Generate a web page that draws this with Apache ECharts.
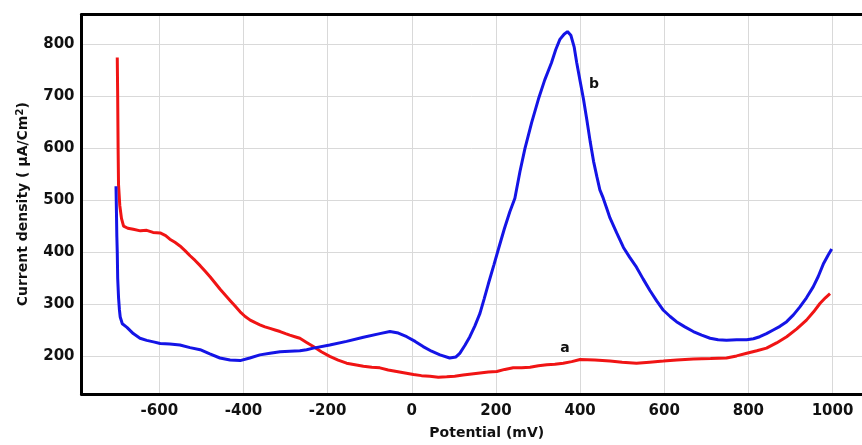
<!DOCTYPE html>
<html>
<head>
<meta charset="utf-8">
<script src="https://cdn.jsdelivr.net/npm/echarts@6/dist/echarts.min.js"></script>
<style>html,body{margin:0;padding:0;background:#fff}#c{width:862px;height:445px}</style>
</head>
<body>
<div id="c"></div>
<script>
const xTicks = [-600, -400, -200, 0, 200, 400, 600, 800, 1000];
const yTicks = [200, 300, 400, 500, 600, 700, 800];

const seriesA_x = [-700,-699,-698,-697,-694,-690,-685,-675,-662,-645,-630,-615,-598,-585,-575,-563,-551,-539,-527,-515,-503,-491,-479,-467,-456,-444,-432,-420,-408,-396,-384,-372,-361,-349,-337,-325,-313,-300,-290,-278,-266,-250,-234,-215,-195,-175,-155,-135,-115,-95,-76,-56,-36,-16,4,23,43,63,83,102,122,142,162,182,202,221,241,261,281,301,321,340,360,380,400,435,471,500,534,565,598,630,669,710,748,772,796,820,843,867,891,915,938,955,970,983,994];
const seriesA_y = [775,700,600,530,490,465,450,446,444,441,442,438,437,432,425,419,412,403,393,384,374,363,352,340,329,318,307,296,285,276,269,264,260,256,253,250,247,243,240,237,234,226,218,208,199,192,186,183,180,178,177,173,170,167,164,162,161,159,160,161,163,165,167,169,170,174,177,177,178,181,183,184,186,189,193,192,190,188,186,188,190,192,194,195,196,200,205,210,215,225,237,252,269,285,301,312,320];

const seriesB_x = [-703,-702,-701,-700,-699,-697,-695,-693,-688,-677,-662,-646,-630,-614,-598,-575,-551,-527,-503,-480,-456,-432,-408,-385,-361,-337,-313,-290,-266,-250,-234,-195,-155,-115,-76,-52,-32,-12,8,27,47,67,90,105,114,126,138,150,162,172,182,195,207,220,233,245,257,269,285,301,316,332,342,352,362,370,378,386,392,400,408,416,424,432,440,447,455,463,471,487,503,518,534,550,566,582,598,614,629,649,669,689,709,728,748,772,796,812,827,843,859,875,891,907,922,938,954,966,978,990,998];
const seriesB_y = [527,480,430,400,350,313,290,275,262,255,243,234,230,227,224,223,221,216,212,204,196,192,191,196,202,205,208,209,210,212,215,221,228,236,243,247,244,237,228,218,209,202,196,198,205,220,237,258,282,310,339,375,409,445,478,504,555,600,650,695,732,765,790,810,820,825,818,795,765,730,695,655,613,575,545,520,504,485,466,437,409,390,371,348,326,306,288,276,266,256,247,240,234,231,230,231,231,233,237,243,250,257,266,279,294,312,333,353,377,395,406];

const labelA = {name: 'a', x: 364, y: 214};
const labelB = {name: 'b', x: 433, y: 724};

function pairs(xs, ys){ return xs.map((x,i)=>[x, ys[i]]); }

const font = 'DejaVu Sans';
const chart = echarts.init(document.getElementById('c'), null, {renderer: 'canvas'});
chart.setOption({
  animation: false,
  backgroundColor: '#ffffff',
  grid: {left: 81.5, right: 0, top: 14.5, bottom: 47, containLabel: false},
  xAxis: [{
    type: 'value', min: -785, max: 1070,
    name: 'Potential (mV)', nameLocation: 'middle', nameGap: 32,
    nameTextStyle: {fontFamily: font, fontWeight: 'bold', fontSize: 14, color: '#111', padding: [0,0,0,30]},
    axisLine: {show: true, onZero: false, lineStyle: {color: '#000', width: 3}},
    axisTick: {show: false, customValues: xTicks},
    axisLabel: {customValues: xTicks, formatter: v => String(v), fontFamily: font, fontWeight: 'bold', fontSize: 15, color: '#111', margin: 10},
    splitLine: {show: true, lineStyle: {color: '#d9d9d9', width: 1}}
  }, {
    type: 'value', position: 'top', min: -785, max: 1070,
    axisLine: {show: true, onZero: false, lineStyle: {color: '#000', width: 3}},
    axisTick: {show: false}, axisLabel: {show: false}, splitLine: {show: false}
  }],
  yAxis: {
    type: 'value', min: 126.6, max: 858,
    name: 'Current density ( μA/Cm{s|2})', nameLocation: 'middle', nameGap: 50, nameRotate: 90,
    nameTextStyle: {fontFamily: font, fontWeight: 'bold', fontSize: 14, color: '#111',
      rich: {s: {fontFamily: font, fontWeight: 'bold', fontSize: 10, color: '#111', verticalAlign: 'top', padding: [0,0,6,0]}}},
    axisLine: {show: true, onZero: false, lineStyle: {color: '#000', width: 3}},
    axisTick: {show: false, customValues: yTicks},
    axisLabel: {customValues: yTicks, fontFamily: font, fontWeight: 'bold', fontSize: 15, color: '#111', margin: 7},
    splitLine: {show: true, lineStyle: {color: '#d9d9d9', width: 1}}
  },
  series: [{
    name: 'a', type: 'line', data: pairs(seriesA_x, seriesA_y),
    showSymbol: false, lineStyle: {color: '#f01414', width: 3}, itemStyle: {color: '#f01414'},
    markPoint: {symbol: 'circle', symbolSize: 0, silent: true,
      label: {show: true, formatter: labelA.name, position: 'inside', fontFamily: font, fontWeight: 'bold', fontSize: 14, color: '#111'},
      data: [{coord: [labelA.x, labelA.y]}]}
  }, {
    name: 'b', type: 'line', data: pairs(seriesB_x, seriesB_y),
    showSymbol: false, lineStyle: {color: '#1414e6', width: 3}, itemStyle: {color: '#1414e6'},
    markPoint: {symbol: 'circle', symbolSize: 0, silent: true,
      label: {show: true, formatter: labelB.name, position: 'inside', fontFamily: font, fontWeight: 'bold', fontSize: 14, color: '#111'},
      data: [{coord: [labelB.x, labelB.y]}]}
  }]
});
</script>
</body>
</html>
